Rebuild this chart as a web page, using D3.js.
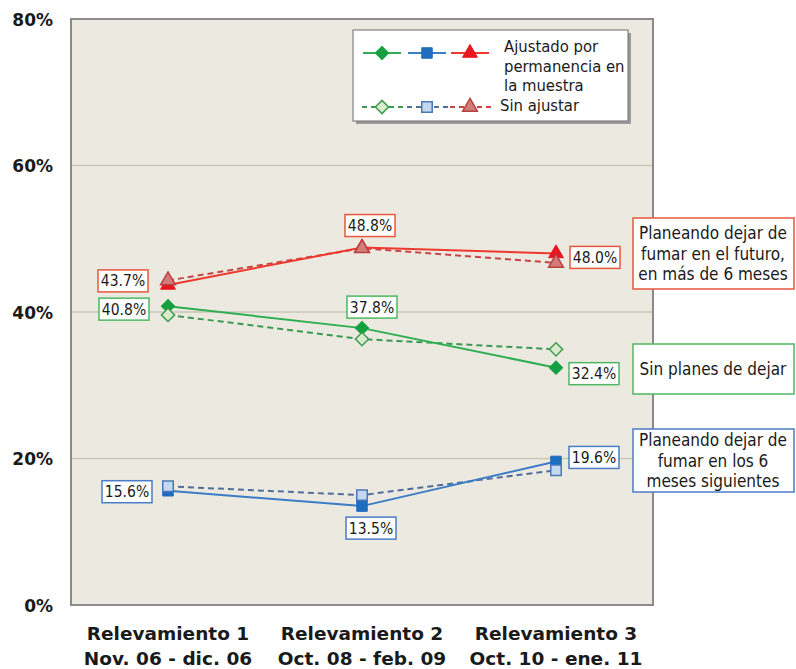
<!DOCTYPE html>
<html>
<head>
<meta charset="utf-8">
<script src="https://cdn.jsdelivr.net/npm/d3@7"></script>
<style>
  html, body { margin: 0; padding: 0; background: #ffffff; }
  svg { display: block; }
</style>
</head>
<body>
<svg id="chart" width="796" height="669"></svg>
<script>
// Survey rounds (x axis)
const categories = ["Relevamiento 1", "Relevamiento 2", "Relevamiento 3"];
const categoryDates = ["Nov. 06 - dic. 06", "Oct. 08 - feb. 09", "Oct. 10 - ene. 11"];

// Adjusted for permanence in the sample (%)
const adjustedFuture = [43.7, 48.8, 48.0];
const adjustedNoPlans = [40.8, 37.8, 32.4];
const adjustedSixMonths = [15.6, 13.5, 19.6];

// Unadjusted (%)
const rawFuture = [44.3, 48.7, 46.7];
const rawNoPlans = [39.6, 36.3, 34.9];
const rawSixMonths = [16.2, 15.0, 18.4];

const yTicks = [0, 20, 40, 60, 80];
const legendText = ["Ajustado por", "permanencia en", "la muestra"];
const legendRawText = "Sin ajustar";
const seriesNames = [
  ["Planeando dejar de", "fumar en el futuro,", "en más de 6 meses"],
  ["Sin planes de dejar"],
  ["Planeando dejar de", "fumar en los 6", "meses siguientes"]
];

const svg = d3.select("#chart");
const plot = { left: 71, right: 653, top: 19, bottom: 605 };

const x = d3.scalePoint().domain(categories).range([plot.left, plot.right]).padding(0.5);
const y = d3.scaleLinear().domain([0, 80]).range([plot.bottom, plot.top]);

const font = "'DejaVu Sans Condensed', 'DejaVu Sans', sans-serif";

// plot background
svg.append("rect")
  .attr("x", plot.left).attr("y", plot.top)
  .attr("width", plot.right - plot.left).attr("height", plot.bottom - plot.top)
  .attr("fill", "#ECE9E0");

// horizontal grid lines
svg.append("g").selectAll("line")
  .data(yTicks.filter(t => t > 0 && t < 80))
  .join("line")
  .attr("x1", plot.left).attr("x2", plot.right)
  .attr("y1", d => y(d)).attr("y2", d => y(d))
  .attr("stroke", "#C9C5B9").attr("stroke-width", 1.5);

// plot frame
svg.append("rect")
  .attr("x", plot.left).attr("y", plot.top)
  .attr("width", plot.right - plot.left).attr("height", plot.bottom - plot.top)
  .attr("fill", "none").attr("stroke", "#8A8A8A").attr("stroke-width", 2);

// y axis
const yAxis = d3.axisLeft(y).tickValues(yTicks).tickFormat(d => d + "%").tickSize(0).tickPadding(0);
const yg = svg.append("g").attr("transform", `translate(${plot.left - 18},0)`).call(yAxis);
yg.select(".domain").remove();
yg.selectAll("text")
  .attr("font-family", "'DejaVu Sans', sans-serif")
  .attr("font-weight", "bold").attr("font-size", 17).attr("fill", "#1a1a1a")
  .attr("dy", "0.36em");

// x axis (two-line category labels)
const xg = svg.append("g").selectAll("text")
  .data(categories)
  .join("text")
  .attr("x", d => x(d))
  .attr("text-anchor", "middle")
  .attr("font-family", "'DejaVu Sans', sans-serif")
  .attr("font-weight", "bold").attr("font-size", 18.5).attr("fill", "#1a1a1a");
xg.append("tspan").attr("x", d => x(d)).attr("y", 640).text(d => d);
xg.append("tspan").attr("x", d => x(d)).attr("y", 665).text((d, i) => categoryDates[i]);

// series definitions
const series = [
  { adj: adjustedFuture, raw: rawFuture, line: "#EE3A2E", fill: "#E8161E", rawLine: "#C94545", rawFill: "#D27C78", rawStroke: "#B94040", box: "#E8573C", shape: "triangle" },
  { adj: adjustedNoPlans, raw: rawNoPlans, line: "#2FAE52", fill: "#14A040", rawLine: "#3B9A52", rawFill: "#D8EBCC", rawStroke: "#3E9C50", box: "#4DB862", shape: "diamond" },
  { adj: adjustedSixMonths, raw: rawSixMonths, line: "#3B7DC6", fill: "#1F6DBE", rawLine: "#4F6E9C", rawFill: "#C4D9F0", rawStroke: "#4A78B8", box: "#4A7CC8", shape: "square" }
];

function symbolPath(shape) {
  if (shape === "triangle") return d3.symbol(d3.symbolTriangle, 95)();
  if (shape === "square") return d3.symbol(d3.symbolSquare, 110)();
  return d3.symbol(d3.symbolSquare, 88)();
}
function symbolRotate(shape) { return shape === "diamond" ? 45 : 0; }

const line = d3.line().x((d, i) => x(categories[i])).y(d => y(d));

const marks = svg.append("g");
series.forEach(s => {
  marks.append("path").datum(s.raw).attr("d", line)
    .attr("fill", "none").attr("stroke", s.rawLine).attr("stroke-width", 2)
    .attr("stroke-dasharray", "6,4");
  marks.append("path").datum(s.adj).attr("d", line)
    .attr("fill", "none").attr("stroke", s.line).attr("stroke-width", 2);
});
series.forEach(s => {
  marks.append("g").selectAll("path").data(s.adj).join("path")
    .attr("d", symbolPath(s.shape))
    .attr("transform", (d, i) => `translate(${x(categories[i])},${y(d)}) rotate(${symbolRotate(s.shape)})`)
    .attr("fill", s.fill).attr("stroke", s.fill).attr("stroke-width", 1);
  marks.append("g").selectAll("path").data(s.raw).join("path")
    .attr("d", symbolPath(s.shape))
    .attr("transform", (d, i) => `translate(${x(categories[i])},${y(d)}) rotate(${symbolRotate(s.shape)})`)
    .attr("fill", s.rawFill).attr("stroke", s.rawStroke).attr("stroke-width", 1.5);
});

// value label placement relative to each adjusted point: [dx, dy] of box centre
const labelOffsets = [
  [[-45, -4], [8, -22], [39, 4]],
  [[-44, 3], [10, -21], [38, 6]],
  [[-41, 1], [9, 22], [38, -4]]
];

const labels = svg.append("g");
series.forEach((s, si) => {
  s.adj.forEach((v, i) => {
    const cx = x(categories[i]) + labelOffsets[si][i][0];
    const cy = y(v) + labelOffsets[si][i][1];
    const g = labels.append("g").attr("transform", `translate(${cx},${cy})`);
    g.append("rect").attr("x", -25).attr("y", -11).attr("width", 50).attr("height", 22)
      .attr("fill", "#ffffff").attr("stroke", s.box).attr("stroke-width", 1.5);
    g.append("text").attr("text-anchor", "middle").attr("dy", "0.36em")
      .attr("font-family", font).attr("font-size", 15.5).attr("fill", "#1a1a1a")
      .text(d3.format(".1f")(v) + "%");
  });
});

// series name boxes on the right
const nameBoxes = [
  { y0: 218, y1: 289, stroke: "#E8573C" },
  { y0: 344, y1: 394, stroke: "#4DB862" },
  { y0: 429, y1: 492, stroke: "#4A7CC8" }
];
nameBoxes.forEach((b, i) => {
  const g = svg.append("g");
  g.append("rect").attr("x", 633).attr("y", b.y0).attr("width", 161).attr("height", b.y1 - b.y0)
    .attr("fill", "#ffffff").attr("stroke", b.stroke).attr("stroke-width", 1.5);
  const lines = seriesNames[i];
  const mid = (b.y0 + b.y1) / 2;
  const lh = 20.5;
  g.selectAll("text").data(lines).join("text")
    .attr("x", 713)
    .attr("y", (d, k) => mid + (k - (lines.length - 1) / 2) * lh)
    .attr("dy", "0.36em")
    .attr("text-anchor", "middle")
    .attr("font-family", font).attr("font-size", 17).attr("fill", "#1a1a1a")
    .text(d => d);
});

// legend
const lg = svg.append("g");
lg.append("rect").attr("x", 356).attr("y", 33).attr("width", 275).attr("height", 91).attr("fill", "#9A9A9A");
lg.append("rect").attr("x", 353).attr("y", 30).attr("width", 275).attr("height", 91)
  .attr("fill", "#ffffff").attr("stroke", "#6E6E6E").attr("stroke-width", 1);
const legendKeys = [series[1], series[2], series[0]];
const keyX = [382, 427, 470];
legendKeys.forEach((s, k) => {
  const cx = keyX[k];
  lg.append("line").attr("x1", cx - 19).attr("x2", cx + 19).attr("y1", 53).attr("y2", 53)
    .attr("stroke", s.line).attr("stroke-width", 2);
  lg.append("path").attr("d", symbolPath(s.shape))
    .attr("transform", `translate(${cx},53) rotate(${symbolRotate(s.shape)})`)
    .attr("fill", s.fill).attr("stroke", s.fill);
  lg.append("line").attr("x1", cx - 20).attr("x2", cx + 21).attr("y1", 107).attr("y2", 107)
    .attr("stroke", s.rawLine).attr("stroke-width", 1.8).attr("stroke-dasharray", "5,4");
  lg.append("path").attr("d", symbolPath(s.shape))
    .attr("transform", `translate(${cx},107) rotate(${symbolRotate(s.shape)})`)
    .attr("fill", s.rawFill).attr("stroke", s.rawStroke).attr("stroke-width", 1.5);
});
lg.selectAll("text.adj").data(legendText).join("text")
  .attr("x", 504).attr("y", (d, k) => 46 + k * 19.6).attr("dy", "0.36em")
  .attr("font-family", font).attr("font-size", 16.5).attr("fill", "#1a1a1a")
  .text(d => d);
lg.append("text").attr("x", 500).attr("y", 105.5).attr("dy", "0.36em")
  .attr("font-family", font).attr("font-size", 16.5).attr("fill", "#1a1a1a")
  .text(legendRawText);
</script>
</body>
</html>
